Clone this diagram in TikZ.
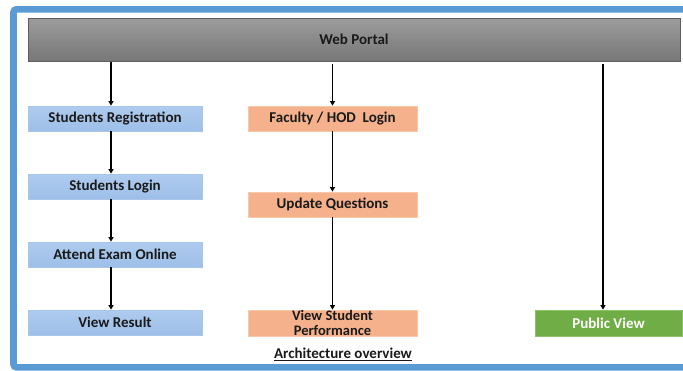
\documentclass[tikz,border=0pt]{standalone}
\usepackage{fontspec}
\setmainfont{Carlito}
\usetikzlibrary{arrows.meta}
\definecolor{frameblue}{HTML}{5B9BD5}
\definecolor{bluetop}{HTML}{AECBEE}
\definecolor{bluebot}{HTML}{9DBFE8}
\definecolor{blueline}{HTML}{A9C6EA}
\definecolor{orangefill}{HTML}{F4B18C}
\definecolor{orangeline}{HTML}{F8C6A8}
\definecolor{greenfill}{HTML}{70AD47}
\definecolor{greenline}{HTML}{8CC06A}
\definecolor{graytop}{HTML}{9C9C9C}
\definecolor{graybot}{HTML}{777777}
\definecolor{grayline}{HTML}{5E5E5E}
\definecolor{txt}{HTML}{1A1A1A}
\tikzset{
  lbl/.style={font=\fontsize{15}{15.5}\selectfont\bfseries, text=txt, align=center, inner sep=0pt},
  bluebox/.style={lbl, draw=blueline, line width=0.8pt, top color=bluetop, bottom color=bluebot, minimum width=174pt, minimum height=25pt},
  orangebox/.style={lbl, draw=orangeline, line width=0.8pt, fill=orangefill, minimum width=169pt, minimum height=25pt},
  greenbox/.style={lbl, draw=greenline, line width=0.8pt, fill=greenfill, text=white, minimum width=147pt, minimum height=26pt},
  portal/.style={lbl, draw=grayline, line width=1pt, top color=graytop, bottom color=graybot, minimum width=652pt, minimum height=43pt},
  arr/.style={line width=1.8pt, black, -{Triangle[length=4.5pt,width=5pt]}}
}
\begin{document}
\begin{tikzpicture}[x=1pt,y=-1pt]
\useasboundingbox (0,0) rectangle (683,370);
\begin{scope}
\clip (0,0) rectangle (683,370);
\fill[white] (0,0) rectangle (683,370);
\draw[frameblue, line width=6.6pt, rounded corners=3pt] (13.5,9.3) rectangle (720,367.3);
\end{scope}
\node[portal] (wp) at (354,39.5) {Web Portal};
\node[bluebox] (sr) at (115,118.5) {Students Registration};
\node[bluebox] (sl) at (115,186.5) {Students Login};
\node[bluebox] (ae) at (115,254.5) {Attend Exam Online};
\node[bluebox] (vr) at (115,322.5) {View Result};
\node[orangebox] (fh) at (332.5,118.5) {Faculty / HOD\ \ Login};
\node[orangebox] (uq) at (332.5,204.5) {Update Questions};
\node[orangebox, minimum height=26pt, font=\fontsize{14.5}{14.5}\selectfont\bfseries] (vs) at (332.5,323) {View Student\\Performance};
\node[greenbox] (pv) at (608.5,323) {Public View};
\node[lbl] (cap) at (343,354.5) {\underline{Architecture overview}};
\draw[arr] ([xshift=-4pt]sr.north |- wp.south) -- ([xshift=-4pt]sr.north);
\draw[arr] ([xshift=-4pt]sr.south) -- ([xshift=-4pt]sl.north);
\draw[arr] ([xshift=-4pt]sl.south) -- ([xshift=-4pt]ae.north);
\draw[arr] ([xshift=-4pt]ae.south) -- ([xshift=-4pt]vr.north);
\draw[arr] ([yshift=-2pt]fh.north |- wp.south) -- (fh.north);
\draw[arr] (fh.south) -- (uq.north);
\draw[arr] (uq.south) -- (vs.north);
\draw[arr] ([xshift=-5.5pt,yshift=-2pt]pv.north |- wp.south) -- ([xshift=-5.5pt]pv.north);
\end{tikzpicture}
\end{document}
